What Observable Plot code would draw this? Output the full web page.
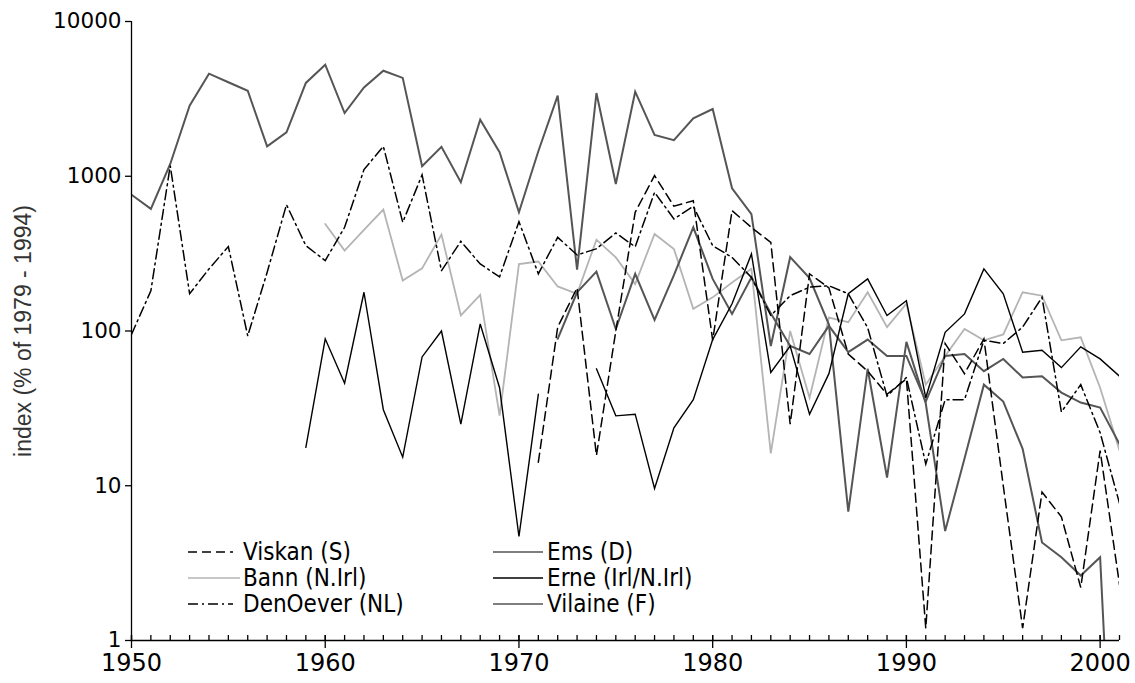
<!DOCTYPE html>
<html><head><meta charset="utf-8">
<script src="https://cdn.jsdelivr.net/npm/d3@7"></script>
<script src="https://cdn.jsdelivr.net/npm/@observablehq/plot@0.6"></script>
<style>
body{margin:0;background:#fff}
#wrap{position:relative;width:1135px;height:683px;font-family:"DejaVu Sans Condensed","DejaVu Sans",sans-serif}
.legend{position:absolute;font-size:24px;color:#000;line-height:26px}
.row{display:flex;align-items:center;height:26px;white-space:nowrap}
.row svg{flex:none}
</style></head><body><div id="wrap"></div>
<script>
// categories
const years = d3.range(1950, 2002);
const decadeTicks = [1950, 1960, 1970, 1980, 1990, 2000];
const yTicks = [1, 10, 100, 1000, 10000];
const yTitle = "index (% of 1979 - 1994)";

// series values, 1950..2001 (null = no data)
const ems = [760,615,1200,2860,4600,4050,3570,1560,1920,4010,
  5260,2560,3750,4810,4320,1160,1550,914,2320,1430,
  585,1450,3320,249,3450,891,3520,1850,1710,2370,
  2720,836,570,80,300,220,110,6.8,57,11.3,
  85,34,5.1,15,45,35,17.3,4.3,3.45,2.63,
  3.45,0.01];
const vilaine = [null,null,null,null,null,null,null,null,null,null,
  null,null,null,null,null,null,null,null,null,null,
  null,null,89,178,242,103,234,118,230,468,
  217,129,222,130,80,71,108,73,88,69,
  69,35,69,71,55,66,50,51,40,34.5,
  32,18.6];
const erne = [null,null,null,null,null,null,null,null,null,17.7,
  89,46,178,31,15.3,68,100,25,111,43,
  4.7,39,null,null,57,28.3,29,9.6,23.7,36,
  88,150,315,54,80,29,53,174,217,126,
  157,37,98,129,252,174,73,75,58,79,
  66,51];
const bann = [null,null,null,null,null,null,null,null,null,null,
  492,331,450,609,212,254,420,126,171,28.4,
  271,281,194,174,389,299,201,424,339,139,
  165,206,252,16.2,100,37,122,114,178,106,
  150,45,69,103,87,95,178,169,87,91,
  43,16.9];
const viskan = [null,null,null,null,null,null,null,null,null,null,
  null,null,null,null,null,null,null,null,null,null,
  null,14.2,106,190,15.7,100,585,1010,640,695,
  87,600,467,374,25,234,190,71,55,39,
  49,1.2,83,53,89,10,1.2,9.1,6.3,2.2,
  16.9,2.3];
const denOever = [95,182,1170,174,252,351,93,239,655,356,
  285,468,1104,1560,504,1020,245,380,271,224,
  509,234,403,310,340,430,350,787,530,640,
  356,299,222,126,169,192,196,174,105,38,
  50,13.8,36,36,87,83,106,165,30,45,
  22,7.7];

const series = [
  {name: "Bann (N.Irl)", values: bann, stroke: "#b4b4b4", width: 1.8, dash: null},
  {name: "Vilaine (F)", values: vilaine, stroke: "#555555", width: 2, dash: null},
  {name: "Ems (D)", values: ems, stroke: "#555555", width: 2, dash: null},
  {name: "Erne (Irl/N.Irl)", values: erne, stroke: "#000000", width: 1.4, dash: null},
  {name: "DenOever (NL)", values: denOever, stroke: "#000000", width: 1.5, dash: "10,4,2,4"},
  {name: "Viskan (S)", values: viskan, stroke: "#000000", width: 1.5, dash: "9,5"}
];

const axisFont = "DejaVu Sans";

const lineMarks = series.map(s => Plot.line(
  years.map((yr, i) => ({year: yr, value: s.values[i]})),
  {x: "year", y: "value", stroke: s.stroke, strokeWidth: s.width,
   strokeDasharray: s.dash, clip: true, strokeLinejoin: "miter", strokeMiterlimit: 4}
));

const chart = Plot.plot({
  width: 1135, height: 683,
  marginLeft: 131, marginRight: 16, marginTop: 21, marginBottom: 43,
  style: {fontFamily: axisFont, background: "#fff", color: "#000", overflow: "visible"},
  x: {domain: [1950, 2001]},
  y: {type: "log", domain: [1, 10000]},
  marks: [
    ...lineMarks,
    Plot.ruleX([1950], {stroke: "#000", strokeWidth: 1.3}),
    Plot.ruleY([1], {stroke: "#000", strokeWidth: 1.3}),
    Plot.axisY({ticks: yTicks, tickSize: 6, tickFormat: () => "", label: null, strokeWidth: 1.3}),
    Plot.text(yTicks, {y: d => d, frameAnchor: "left", textAnchor: "end", dx: -10,
      text: d => d3.format("d")(d), fontSize: 21.5, fontFamily: axisFont, fill: "#000"}),
    Plot.axisX({ticks: years, tickSize: 5, dy: -5, tickFormat: () => "", label: null, strokeWidth: 1.3}),
    Plot.axisX({ticks: decadeTicks, tickSize: 13, dy: -5, tickFormat: () => "", label: null, strokeWidth: 1.3}),
    Plot.text(decadeTicks, {x: d => d, frameAnchor: "bottom", lineAnchor: "top", dy: 13,
      text: d => d3.format("d")(d), fontSize: 24, fontFamily: axisFont, fill: "#000"}),
    Plot.text([yTitle], {frameAnchor: "left", dx: -108, rotate: -90, fontSize: 23,
      textAnchor: "middle", fontFamily: "Liberation Sans", fill: "#333"})
  ]
});

const wrap = document.getElementById("wrap");
wrap.appendChild(chart);

function sample(s, w, lineLen) {
  const dash = s.dash ? ` stroke-dasharray="${s.dash}"` : "";
  return `<svg width="${w}" height="26"><line x1="0" x2="${lineLen}" y1="13" y2="13" stroke="${s.stroke}" stroke-width="${Math.min(s.width,1.5)}"${dash}/></svg>`;
}
const byName = Object.fromEntries(series.map(s => [s.name, s]));
const col1 = [["Viskan (S)", 45], ["Bann (N.Irl)", 52], ["DenOever (NL)", 45]];
const col2 = [["Ems (D)", 50], ["Erne (Irl/N.Irl)", 50], ["Vilaine (F)", 50]];
function legendCol(items, left, w) {
  const div = document.createElement("div");
  div.className = "legend";
  div.style.left = left + "px";
  div.style.top = "539px";
  div.innerHTML = items.map(([n, len]) =>
    `<div class="row">${sample(byName[n], w, len)}<span>${n}</span></div>`).join("");
  wrap.appendChild(div);
}
legendCol(col1, 188, 55);
legendCol(col2, 493, 54);
</script></body></html>
